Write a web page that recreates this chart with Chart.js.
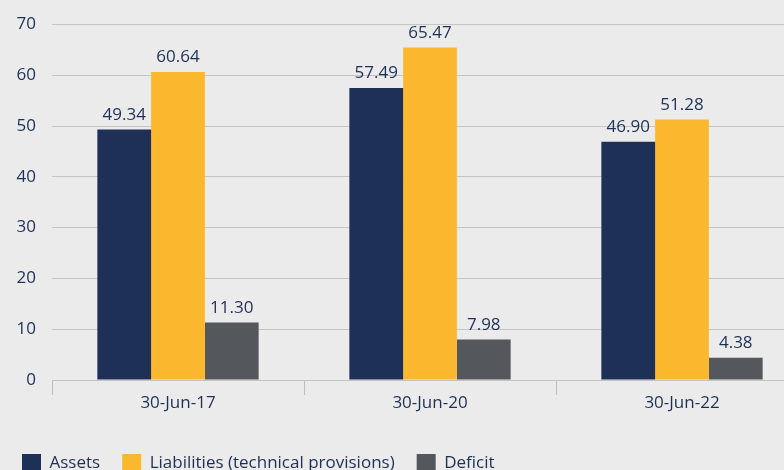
<!DOCTYPE html>
<html>
<head>
<meta charset="utf-8">
<script src="https://cdn.jsdelivr.net/npm/chart.js@4"></script>
<style>
  html, body { margin: 0; padding: 0; background: #ebebeb; overflow: hidden; }
  #wrap { width: 808px; height: 483px; }
</style>
</head>
<body>
<div id="wrap"><canvas id="chart"></canvas></div>
<script>
const categories = ['30-Jun-17', '30-Jun-20', '30-Jun-22'];
const assets = [49.34, 57.49, 46.90];
const liabilities = [60.64, 65.47, 51.28];
const deficit = [11.30, 7.98, 4.38];
const yTicks = [0, 10, 20, 30, 40, 50, 60, 70];

const NAVY = '#1e3056';
const GOLD = '#fbb82e';
const GREY = '#54575c';
const TEXT = '#1e3056';
const FONT = 'Open Sans';

const valueLabels = {
  id: 'valueLabels',
  afterDatasetsDraw(chart) {
    const ctx = chart.ctx;
    ctx.save();
    ctx.fillStyle = TEXT;
    ctx.font = `17px ${FONT}`;
    ctx.textAlign = 'center';
    ctx.textBaseline = 'bottom';
    chart.data.datasets.forEach((ds, i) => {
      chart.getDatasetMeta(i).data.forEach((bar, j) => {
        ctx.fillText(ds.data[j].toFixed(2), bar.x, bar.y - 6);
      });
    });
    ctx.restore();
  },
};

new Chart(document.getElementById('chart'), {
  type: 'bar',
  data: {
    labels: categories,
    datasets: [
      { label: 'Assets', data: assets, backgroundColor: NAVY },
      { label: 'Liabilities (technical provisions)', data: liabilities, backgroundColor: GOLD },
      { label: 'Deficit', data: deficit, backgroundColor: GREY },
    ],
  },
  plugins: [valueLabels],
  options: {
    responsive: true,
    maintainAspectRatio: false,
    animation: false,
    layout: { padding: { top: 22, left: 0, right: 0, bottom: 0 } },
    datasets: { bar: { categoryPercentage: 0.64, barPercentage: 1.0 } },
    plugins: {
      legend: {
        position: 'bottom',
        align: 'start',
        labels: {
          color: TEXT,
          boxWidth: 19,
          boxHeight: 19,
          padding: 22,
          font: { family: FONT, size: 17 },
        },
      },
      tooltip: { enabled: false },
    },
    scales: {
      x: {
        afterFit: axis => { axis.height = 52; },
        grid: {
          offset: true,
          drawOnChartArea: false,
          drawTicks: true,
          tickLength: 15,
          color: '#bdbdbd',
        },
        border: { display: false },
        ticks: {
          color: TEXT,
          padding: -2,
          font: { family: FONT, size: 17 },
        },
      },
      y: {
        min: 0,
        max: 70,
        afterFit: axis => { axis.width = 52; },
        afterBuildTicks: axis => { axis.ticks = yTicks.map(value => ({ value })); },
        grid: { color: '#c4c4c4', drawTicks: false },
        border: { display: false },
        ticks: {
          color: TEXT,
          padding: 16,
          font: { family: FONT, size: 17, lineHeight: 1 },
        },
      },
    },
  },
});
</script>
</body>
</html>
